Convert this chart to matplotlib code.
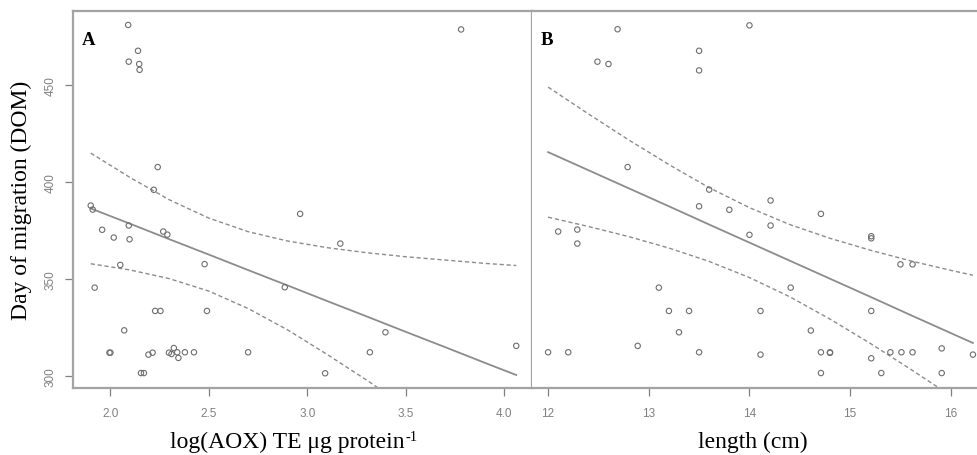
import numpy as np
import matplotlib
matplotlib.use("Agg")
import matplotlib.pyplot as plt

# Day of migration (DOM) against antioxidant capacity and body length
aox_log = [2.09, 2.14, 2.093, 2.146, 2.148, 2.24, 2.22, 1.90, 1.91, 1.958, 2.093,
           2.017, 2.097, 2.268, 2.289, 2.05, 2.478, 1.92, 2.885, 2.227, 2.254,
           2.49, 2.07, 1.995, 2.00, 2.193, 2.214, 2.297, 2.31, 2.322, 2.339,
           2.345, 2.378, 2.424, 2.699, 2.155, 2.17, 3.78, 2.963, 3.167, 3.396,
           3.317, 3.09, 4.06]
dom_a = [480.8, 467.5, 461.9, 460.7, 457.7, 407.6, 395.9, 387.8, 385.7, 375.3, 377.5,
         371.3, 370.4, 374.4, 372.8, 357.2, 357.6, 345.5, 345.7, 333.5, 333.5,
         333.5, 323.5, 312.0, 312.0, 311.0, 312.0, 312.0, 311.3, 314.4, 312.2,
         309.3, 312.2, 312.2, 312.2, 301.5, 301.5, 478.5, 383.5, 368.2, 322.5,
         312.2, 301.4, 315.5]

length_cm = [12.69, 12.49, 12.60, 13.50, 13.50, 14.00, 12.79, 13.60, 13.50, 13.80,
             14.00, 12.10, 12.29, 12.29, 13.10, 13.20, 13.40, 13.30, 12.89, 12.00,
             12.20, 13.50, 14.21, 14.71, 14.21, 15.21, 15.21, 15.50, 15.62, 14.41,
             14.11, 15.21, 14.61, 14.11, 14.71, 14.80, 14.80, 15.21, 15.40, 15.51,
             15.62, 15.91, 16.22, 14.71, 15.31, 15.91]
dom_b = [478.6, 461.9, 460.7, 467.5, 457.4, 480.6, 407.6, 396.0, 387.4, 385.6,
         372.7, 374.4, 375.4, 368.2, 345.5, 333.5, 333.5, 322.5, 315.5, 312.2,
         312.2, 312.2, 390.4, 383.5, 377.5, 370.9, 372.0, 357.5, 357.5, 345.5,
         333.5, 333.5, 323.4, 311.0, 312.2, 311.9, 312.2, 309.1, 312.2, 312.2,
         312.2, 314.2, 311.0, 301.5, 301.5, 301.5]

# fitted regression line with 95% confidence band, panel A
band_x_a = [1.90, 2.10, 2.30, 2.50, 2.70, 2.90, 3.10, 3.30, 3.50, 3.70, 3.90, 4.06]
fit_a = [386.3, 378.4, 370.4, 362.5, 354.5, 346.6, 338.6, 330.7, 322.7, 314.8, 306.8, 300.5]
upper_a = [414.8, 402.2, 390.7, 381.3, 374.3, 369.5, 366.1, 363.5, 361.4, 359.7, 358.0, 356.9]
lower_a = [357.8, 354.6, 350.1, 343.7, 334.7, 323.7, 311.1, 297.9, 284.0, 269.9, 255.6, 244.1]

# fitted regression line with 95% confidence band, panel B
band_x_b = [12.0, 12.4, 12.8, 13.2, 13.6, 14.0, 14.4, 14.8, 15.2, 15.6, 16.0, 16.22]
fit_b = [415.3, 406.0, 396.7, 387.4, 378.0, 368.7, 359.4, 350.1, 340.8, 331.4, 322.1, 317.0]
upper_b = [448.8, 435.0, 421.6, 408.9, 397.0, 386.7, 378.0, 370.9, 364.8, 359.3, 354.4, 351.9]
lower_b = [381.8, 377.0, 371.8, 365.9, 359.0, 350.7, 340.8, 329.3, 316.8, 303.5, 289.8, 282.1]

xticks_a = [2.0, 2.5, 3.0, 3.5, 4.0]
xticklabels_a = ["2.0", "2.5", "3.0", "3.5", "4.0"]
xticks_b = [12, 13, 14, 15, 16]
xticklabels_b = ["12", "13", "14", "15", "16"]
yticks = [300, 350, 400, 450]
yticklabels = ["300", "350", "400", "450"]

W, H = 977, 456
fig = plt.figure(figsize=(W / 100, H / 100), dpi=100)

frame_col = "#a3a3a3"
tick_col = "#808080"
pt_col = "#6e6e6e"
line_col = "#8c8c8c"
serif = ["Liberation Serif", "DejaVu Serif"]
narrow = ["Liberation Sans Narrow", "Liberation Sans", "DejaVu Sans"]

ax_left, ax_split, ax_right = 73, 532, 985
ax_top, ax_bottom = 12, 389
ax_h = ax_bottom - ax_top
label_base = -(448 - ax_bottom) / ax_h


def panel(ax, x, y, bx, fit, lo, hi, xlim, xticks, xticklabels, letter, xlabel,
          label_shift):
    ax.scatter(x, y, s=15, facecolors="none", edgecolors=pt_col, linewidths=0.8, zorder=3)
    ax.plot(bx, fit, color=line_col, lw=1.3)
    ax.plot(bx, lo, color=line_col, lw=1.0, ls=(0, (3, 2)))
    ax.plot(bx, hi, color=line_col, lw=1.0, ls=(0, (3, 2)))
    ax.set_xlim(*xlim)
    ax.set_ylim(293.8, 488)
    ax.set_xticks(xticks)
    ax.set_xticklabels(xticklabels, family=narrow, fontsize=8.5, color=tick_col)
    for sp in ax.spines.values():
        sp.set_color(frame_col)
        sp.set_linewidth(1.6)
    ax.tick_params(axis="both", direction="out", length=5.5, width=0.9, color=tick_col,
                   pad=8)
    ax.text(0.02, 0.925, letter, transform=ax.transAxes, family=serif,
            fontweight="bold", fontsize=13.5, ha="left", va="center")
    lab = ax.set_xlabel(xlabel, family=serif, fontsize=17, va="baseline")
    width_px = ax.get_position().width * W
    ax.xaxis.set_label_coords(0.5 + label_shift / width_px, label_base)
    return lab


axA = fig.add_axes([ax_left / W, 1 - ax_bottom / H, (ax_split - ax_left) / W, ax_h / H])
axB = fig.add_axes([ax_split / W, 1 - ax_bottom / H, (ax_right - ax_split) / W, ax_h / H])

labA = panel(axA, aox_log, dom_a, band_x_a, fit_a, lower_a, upper_a, (1.81, 4.14),
             xticks_a, xticklabels_a, "A", "log(AOX) TE μg protein", -15)
panel(axB, length_cm, dom_b, band_x_b, fit_b, lower_b, upper_b, (11.84, 16.34),
      xticks_b, xticklabels_b, "B", "length (cm)", -6)

# exponent of the unit, set small and raised after "protein"
axA.annotate("-1", xy=(1, 1), xycoords=labA, xytext=(0.5, 0.8),
             textcoords="offset points", family=serif, fontsize=10.5,
             ha="left", va="top")

axA.set_yticks(yticks)
axA.set_yticklabels(yticklabels, family=narrow, fontsize=8.5,
                    color=tick_col, rotation=90, va="center")
axA.tick_params(axis="y", pad=6)
axA.set_ylabel("Day of migration (DOM)", family=serif, fontsize=17)
axA.yaxis.set_label_coords(-(ax_left - 32) / (ax_split - ax_left), 0.5)

axB.set_yticks([])
axB.spines["left"].set_visible(False)

fig.savefig("out.png", dpi=100)
